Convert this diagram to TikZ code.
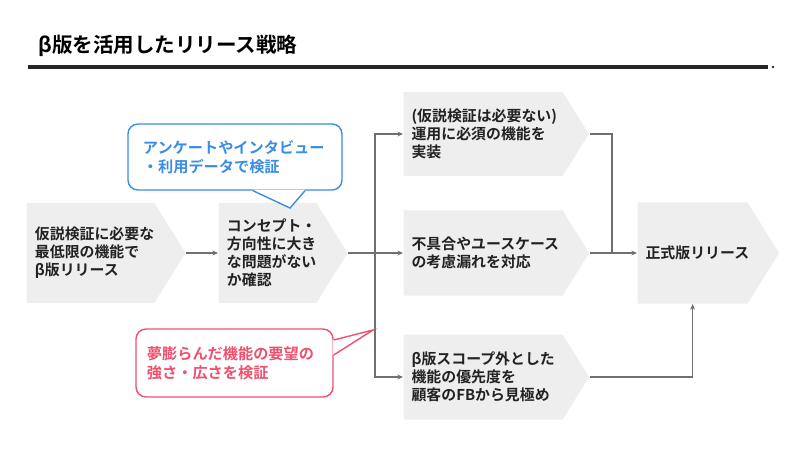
\documentclass[tikz,border=0pt]{standalone}
\usepackage{fontspec}
\setmainfont{Noto Sans CJK JP}[BoldFont={Noto Sans CJK JP Bold}]
\usetikzlibrary{arrows.meta, shapes.symbols, calc}
\definecolor{cfill}{HTML}{EEEEEE}
\definecolor{cline}{HTML}{707070}
\definecolor{cblue}{HTML}{3A8DE6}
\definecolor{cred}{HTML}{F0506E}
\definecolor{ctext}{HTML}{222222}
\tikzset{
  every picture/.style={font=\bfseries, line width=0.8pt},
  chev/.style={shape=signal, signal to=east, signal pointer angle=116, fill=cfill, text=ctext, align=left, anchor=west, inner xsep=0.2cm, inner ysep=0pt, font=\bfseries\fontsize{10.6}{12.8}\selectfont},
  arrow/.style={-{Stealth[length=4pt, width=3.5pt]}, draw=cline, line width=0.8pt},
  link/.style={draw=cline, line width=0.8pt},
  bubble/.style={draw=#1, text=#1, fill=white, rounded corners=0.25cm, line width=1pt, align=left, inner sep=0pt, font=\bfseries\fontsize{10.8}{13.5}\selectfont},
  title/.style={font=\bfseries\fontsize{14.6}{16}\selectfont, anchor=west},
}

\begin{document}
\begin{tikzpicture}[x=0.025cm, y=-0.025cm]
  \useasboundingbox (0,0) rectangle (800,450);
  % title and rule
  \node[title] (title) at (33,46) {β版を活用したリリース戦略};
  \draw[line width=2.2pt, black!85] (28,67) -- (768,67);
  \fill[black!85] (773,67) circle (1pt);
  % steps
  \node[chev, minimum width=3.975cm, minimum height=2.5cm, text width=2.775cm] (beta) at (26,253) {仮説検証に必要な\\最低限の機能で\\β版リリース};
  \node[chev, minimum width=3.225cm, minimum height=2.5cm, text width=2.025cm] (concept) at (218,253) {コンセプト・\\方向性に大き\\な問題がない\\か確認};
  \node[chev, minimum width=4.625cm, minimum height=2.1cm, text width=3.575cm] (ops) at (403,134) {(仮説検証は必要ない)\\運用に必須の機能を\\実装};
  \node[chev, minimum width=4.625cm, minimum height=2.125cm, text width=3.575cm] (bugs) at (403,253) {不具合やユースケース\\の考慮漏れを対応};
  \node[chev, minimum width=4.625cm, minimum height=2.125cm, text width=3.575cm] (scope) at (403,377) {β版スコープ外とした\\機能の優先度を\\顧客のFBから見極め};
  \node[chev, minimum width=3.525cm, minimum height=2.525cm, text width=2.35cm] (release) at (637,253) {正式版リリース};
  % connectors
  \coordinate (fork) at (375,253);
  \coordinate (join) at (612,253);
  \draw[arrow] (beta.east) -- (concept.west);
  \draw[arrow] (concept.east) -- (bugs.west);
  \draw[arrow] (fork) |- (ops.west);
  \draw[arrow] (fork) |- (scope.west);
  \draw[link] (ops.east) -| (join);
  \draw[arrow] (bugs.east) -- (release.west);
  \draw[arrow] (scope.east) -| (release.south);
  % callouts
  \node[bubble=cblue, minimum width=5.35cm, minimum height=1.65cm, text width=4.6cm] (survey) at (235,157) {アンケートやインタビュー\\・利用データで検証};
  \coordinate (surveytip) at (290,208);
  \fill[white] ($(survey.south)+(18,-1)$) -- (surveytip) -- ($(survey.south)+(70,-1)$) -- cycle;
  \draw[cblue, line width=1pt] ($(survey.south)+(18,0)$) -- (surveytip) -- ($(survey.south)+(70,0)$);
  \node[bubble=cred, minimum width=4.925cm, minimum height=1.7cm, text width=4.375cm] (demand) at (234.5,363) {夢膨らんだ機能の要望の\\強さ・広さを検証};
  \coordinate (demandtip) at (373,330);
  \fill[white] ($(demand.east)+(-1,-23)$) -- (demandtip) -- ($(demand.east)+(-1,-8)$) -- cycle;
  \draw[cred, line width=1pt] ($(demand.east)+(0,-23)$) -- (demandtip) -- ($(demand.east)+(0,-8)$);
\end{tikzpicture}
\end{document}
